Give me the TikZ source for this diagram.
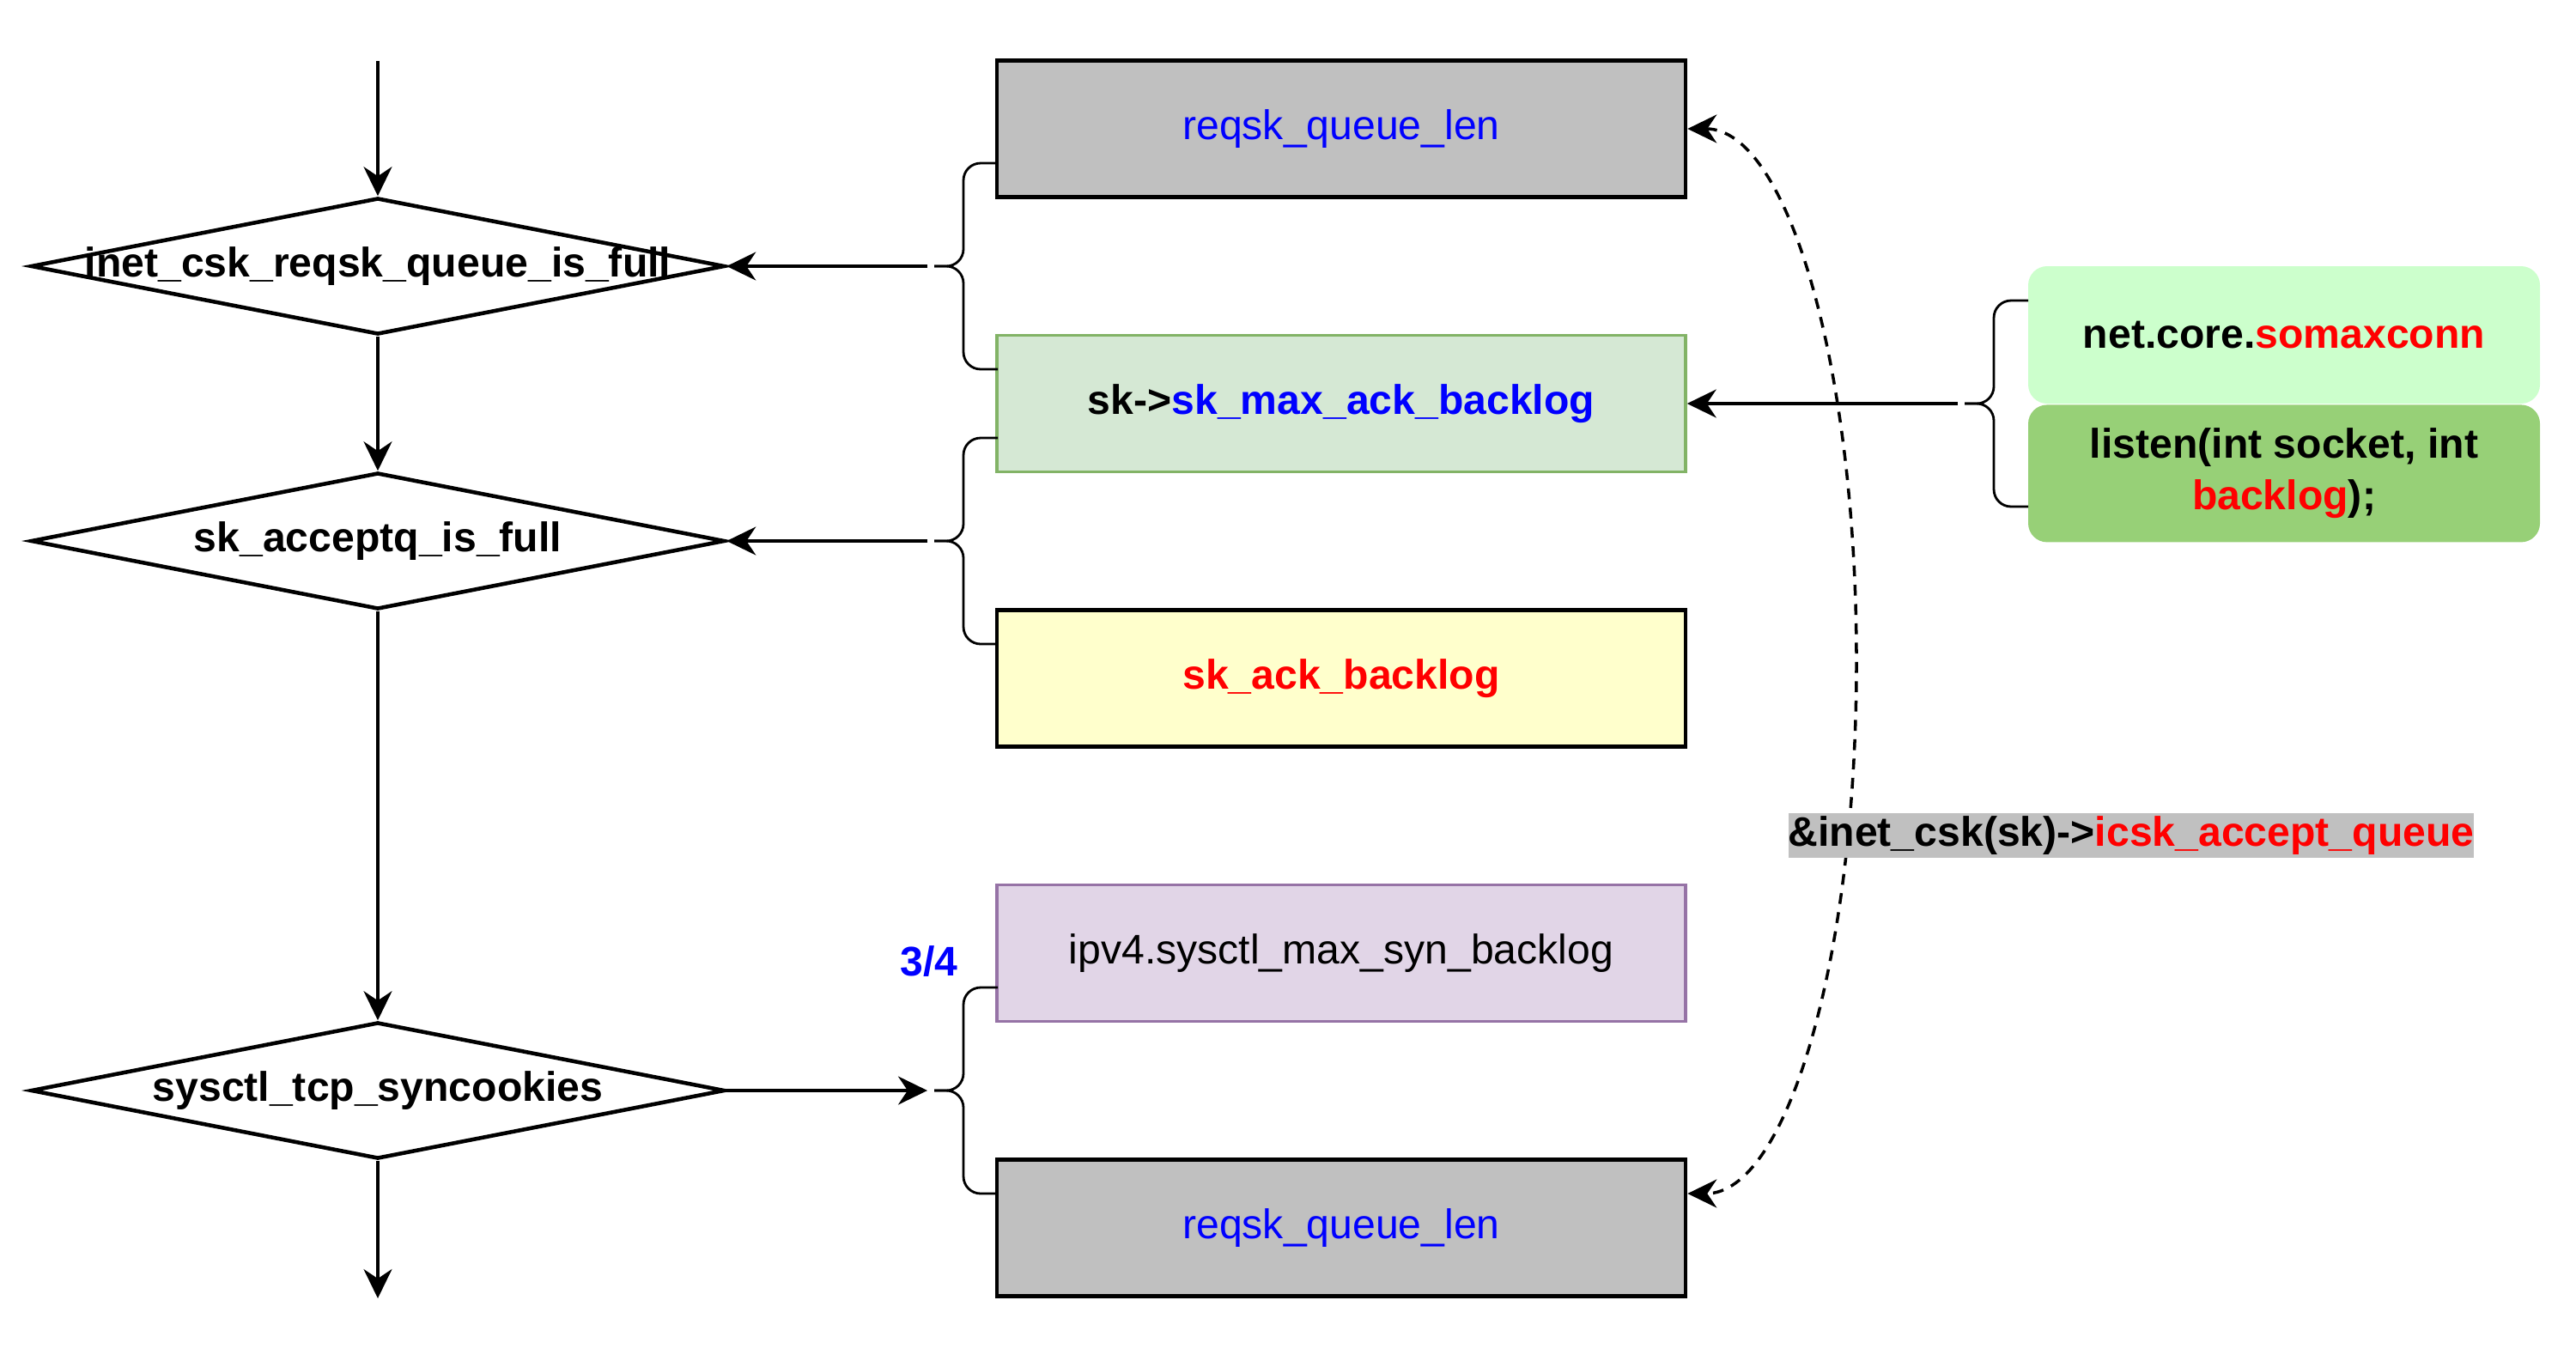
\documentclass[tikz,border=0pt]{standalone}
\usepackage{fontspec}
\setmainfont{Liberation Sans}
\usepackage{tikz}
\usetikzlibrary{arrows.meta,positioning,shapes.geometric}
\definecolor{linkblue}{HTML}{0000FF}
\definecolor{alertred}{HTML}{FF0000}
\definecolor{queuegray}{HTML}{C0C0C0}
\definecolor{maxgreen}{HTML}{D5E8D4}
\definecolor{maxgreenline}{HTML}{82B366}
\definecolor{ackyellow}{HTML}{FFFFCC}
\definecolor{synpurple}{HTML}{E1D5E7}
\definecolor{synpurpleline}{HTML}{9673A6}
\definecolor{sysgreen}{HTML}{CCFFCC}
\definecolor{listengreen}{HTML}{97D077}
\newcommand{\bodyfont}{\fontsize{13.7pt}{17pt}\selectfont}
\tikzset{
    curly/.pic={
        \draw[brace line] (0.74,1.2) -- (0.34,1.2) -- (0.34,0) -- (0,0);
        \draw[brace line] (0.74,-1.2) -- (0.34,-1.2) -- (0.34,0) -- (0,0);
        \coordinate (-tip) at (-0.08,0);
    }
}

\begin{document}
\begin{tikzpicture}[
    font=\bodyfont,
    flow/.style={-{Stealth[length=3.4mm,width=3.3mm,inset=1.1mm]}, line width=1pt},
    check/.style={diamond, draw, line width=1.3pt, minimum width=8.08cm, minimum height=1.59cm, inner sep=0pt},
    field/.style={rectangle, draw, line width=1.3pt, minimum width=8.02cm, minimum height=1.59cm},
    source/.style={rectangle, rounded corners=2.2mm, minimum width=5.96cm, minimum height=1.60cm, align=center, font=\bodyfont\bfseries},
    brace line/.style={line width=0.8pt, rounded corners=2mm},
]
    \useasboundingbox (0,0) rectangle (30,-15.84);

    % Checks on the left
    \coordinate (start) at (4.40,-0.71);
    \node[check, label={center:{\bfseries inet\_csk\_reqsk\_queue\_is\_full}}] (full) at (4.40,-3.10) {};
    \node[check, label={center:{\bfseries sk\_acceptq\_is\_full}}] (acceptq) at (4.40,-6.30) {};
    \node[check, label={center:{\bfseries sysctl\_tcp\_syncookies}}] (cookies) at (4.40,-12.70) {};
    \coordinate (stop) at (4.40,-15.12);

    \draw[flow] (start) -- (full.north);
    \draw[flow] (full.south) -- (acceptq.north);
    \draw[flow] (acceptq.south) -- (cookies.north);
    \draw[flow] (cookies.south) -- (stop);

    % Fields in the middle
    \node[field, fill=queuegray, text=linkblue] (qlen) at (15.62,-1.50) {reqsk\_queue\_len};
    \node[field, fill=maxgreen, draw=maxgreenline, line width=1pt] (maxack) at (15.62,-4.70) {\bfseries sk->\textcolor{linkblue}{sk\_max\_ack\_backlog}};
    \node[field, fill=ackyellow] (ack) at (15.62,-7.90) {\bfseries\textcolor{alertred}{sk\_ack\_backlog}};
    \node[field, fill=synpurple, draw=synpurpleline, line width=1pt] (synmax) at (15.62,-11.10) {ipv4.sysctl\_max\_syn\_backlog};
    \node[field, fill=queuegray, text=linkblue] (qlentwo) at (15.62,-14.30) {reqsk\_queue\_len};

    % Braces
    \pic (brfull) at (10.88,-3.10) {curly};
    \pic (bracc) at (10.88,-6.30) {curly};
    \pic (brsyn) at (10.88,-12.70) {curly};
    \node[font=\bodyfont\bfseries, text=linkblue] (ratio) at (10.82,-11.20) {3/4};

    \draw[flow] (brfull-tip) -- (full.east);
    \draw[flow] (bracc-tip) -- (acceptq.east);
    \draw[flow] (cookies.east) -- (brsyn-tip);

    % Sources on the right
    \node[source, fill=sysgreen] (somax) at (26.60,-3.90) {net.core.\textcolor{alertred}{somaxconn}};
    \node[source, fill=listengreen, below=0pt of somax] (listen) {listen(int socket, int\\\textcolor{alertred}{backlog});};
    \pic (brsrc) at (22.88,-4.70) {curly};
    \draw[flow] (brsrc-tip) -- (maxack.east);

    % Shared accept queue
    \draw[{Stealth[length=3.4mm,width=3.3mm,inset=1.1mm]}-{Stealth[length=3.4mm,width=3.3mm,inset=1.1mm]}, line width=1pt, dash pattern=on 3.6pt off 2.8pt]
        (qlen.east) .. controls (20.80,-1.50) and (21.62,-4.20) .. (21.62,-7.70)
        .. controls (21.62,-11.20) and (20.80,-13.90) .. ([yshift=4mm]qlentwo.east);
    \node[fill=queuegray, inner xsep=0pt, inner ysep=0.4mm, font=\bodyfont\bfseries] (queuelabel) at (24.82,-9.73) {\&inet\_csk(sk)->\textcolor{alertred}{icsk\_accept\_queue}};
\end{tikzpicture}
\end{document}
